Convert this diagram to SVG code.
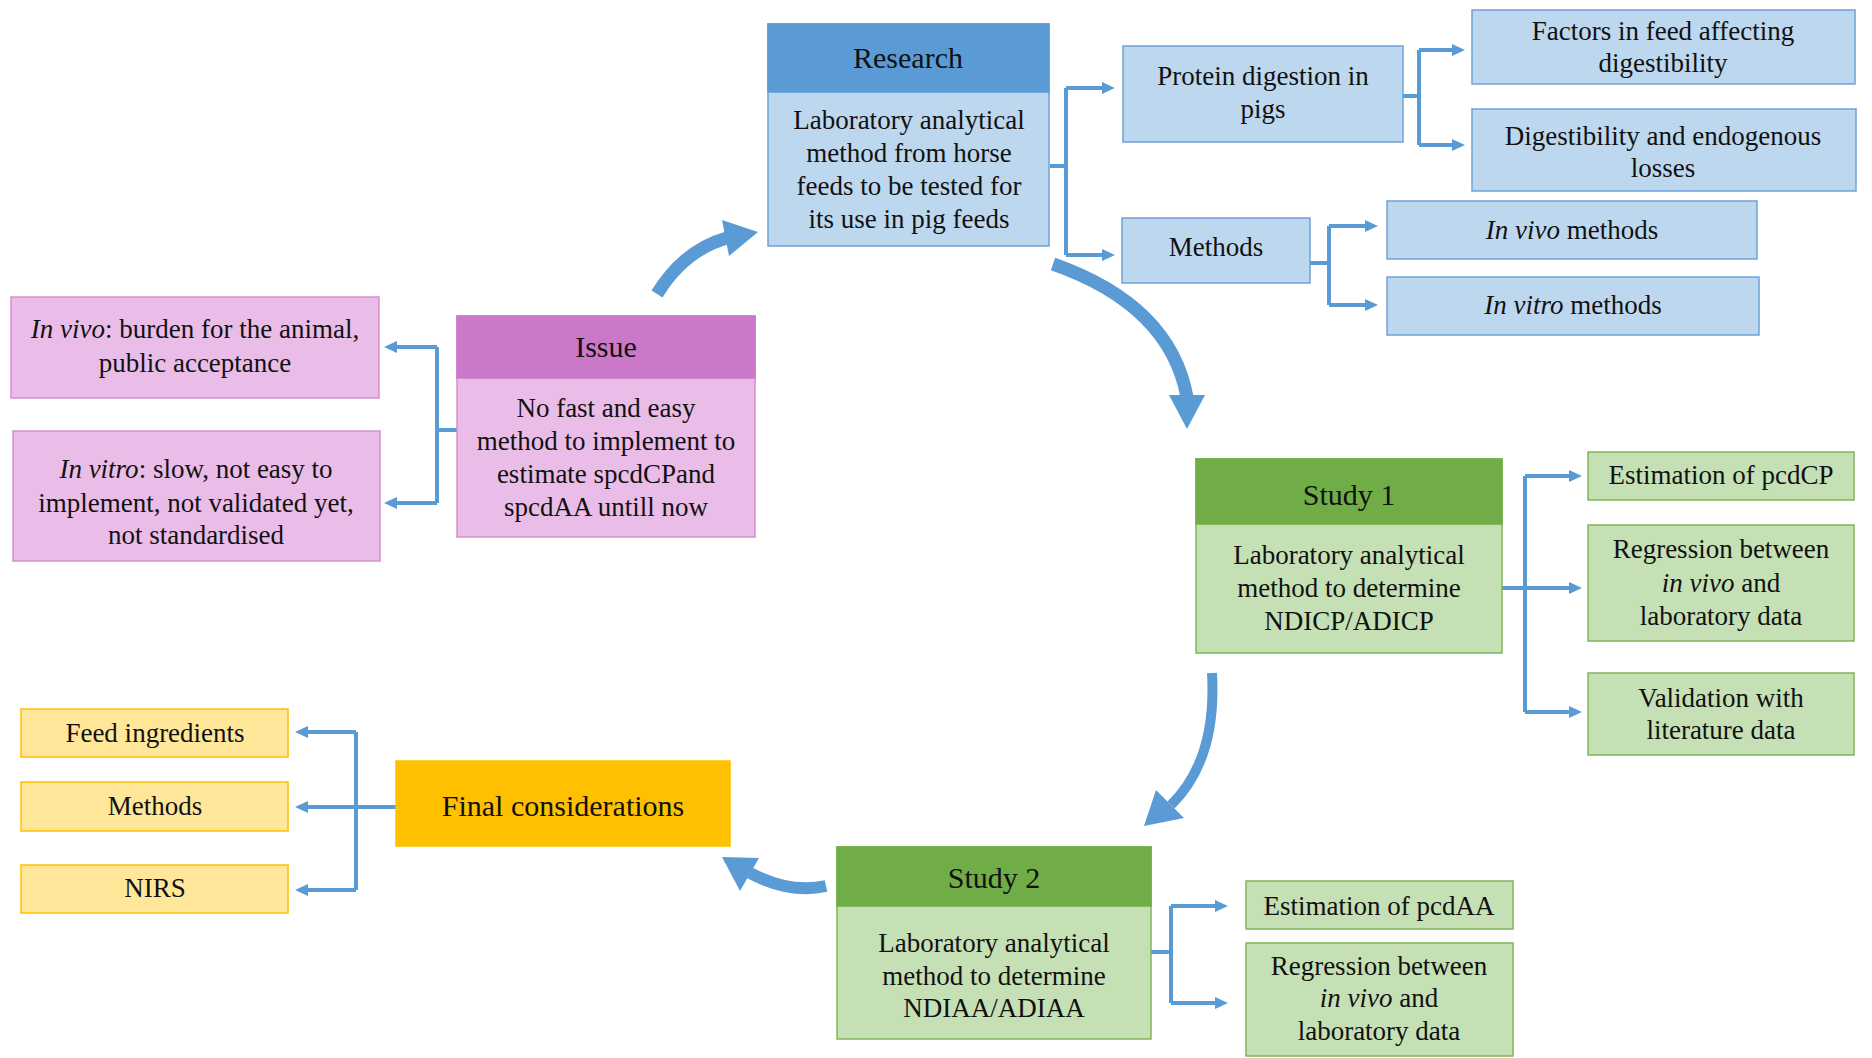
<svg xmlns="http://www.w3.org/2000/svg" width="1872" height="1058" viewBox="0 0 1872 1058">
<defs>
<style>
text{font-family:"Liberation Serif","Times New Roman",serif;fill:#111;text-anchor:middle}
.b{font-size:27px}
.h{font-size:30px}
.i{font-style:italic}
.lb{fill:#bdd7ee;stroke:#6fa3d8;stroke-width:1.5}
.hb{fill:#5b9bd5;stroke:#5b9bd5;stroke-width:1.5}
.lp{fill:#eabce8;stroke:#d58fd1;stroke-width:1.5}
.hp{fill:#cc78c8;stroke:#cc78c8;stroke-width:1.5}
.lg{fill:#c5e0b4;stroke:#7fb65a;stroke-width:1.5}
.hg{fill:#70ad47;stroke:#70ad47;stroke-width:1.5}
.ly{fill:#ffe699;stroke:#ffc000;stroke-width:1.5}
.hy{fill:#ffc000;stroke:#ffc000;stroke-width:1.5}
.c{fill:none;stroke:#5b9bd5;stroke-width:4}
.ca{fill:none;stroke:#5b9bd5;stroke-width:4;marker-end:url(#ah)}
.big{fill:none;stroke:#5b9bd5}
.head{fill:#5b9bd5}
</style>
<marker id="ah" markerWidth="14" markerHeight="14" refX="1" refY="7" orient="auto" markerUnits="userSpaceOnUse">
<path d="M0,1 L13,7 L0,13 z" fill="#5b9bd5"/>
</marker>
</defs>
<rect width="1872" height="1058" fill="#fff"/>

<g id="connectors">
<!-- Research -->
<path class="c" d="M1050,166 H1066 M1066,88 V255"/>
<path class="ca" d="M1066,88 H1103"/>
<path class="ca" d="M1066,255 H1103"/>
<!-- Protein -->
<path class="c" d="M1403,96 H1419 M1419,50 V145"/>
<path class="ca" d="M1419,50 H1453"/>
<path class="ca" d="M1419,145 H1453"/>
<!-- Methods -->
<path class="c" d="M1310,263 H1329 M1329,226 V305"/>
<path class="ca" d="M1329,226 H1366"/>
<path class="ca" d="M1329,305 H1366"/>
<!-- Issue -->
<path class="c" d="M457,430 H437 M437,347 V503"/>
<path class="ca" d="M437,347 H396"/>
<path class="ca" d="M437,503 H396"/>
<!-- Study 1 -->
<path class="c" d="M1525,476 V712"/>
<path class="ca" d="M1502,588 H1570"/>
<path class="ca" d="M1525,476 H1570"/>
<path class="ca" d="M1525,712 H1570"/>
<!-- Study 2 -->
<path class="c" d="M1151,952 H1171 M1171,906 V1003"/>
<path class="ca" d="M1171,906 H1216"/>
<path class="ca" d="M1171,1003 H1216"/>
<!-- Final -->
<path class="c" d="M396,807 H356 M356,732 V890"/>
<path class="ca" d="M356,732 H307"/>
<path class="ca" d="M356,807 H307"/>
<path class="ca" d="M356,890 H307"/>
<!-- big curved arrows -->
<path class="big" stroke-width="13" d="M657,294 Q684,250 727,238"/>
<polygon class="head" points="758,232 722,220 729,256"/>
<path class="big" stroke-width="13" d="M1053,264 Q1170,305 1187,397"/>
<polygon class="head" points="1187,429 1169,395 1205,395"/>
<path class="big" stroke-width="10" d="M1212,673 Q1217,760 1171,805"/>
<polygon class="head" points="1144,826 1156,790 1184,818"/>
<path class="big" stroke-width="12" d="M826,886 Q790,894 750,873"/>
<polygon class="head" points="722,857 759,858 740,891"/>
</g>

<g id="research">
<rect class="lb" x="768" y="24" width="281" height="222"/>
<rect class="hb" x="768" y="24" width="281" height="68"/>
<text class="h" x="908" y="68">Research</text>
<text class="b" x="909" y="129">Laboratory analytical</text>
<text class="b" x="909" y="162">method from horse</text>
<text class="b" x="909" y="195">feeds to be tested for</text>
<text class="b" x="909" y="228">its use in pig feeds</text>
</g>

<g id="protein">
<rect class="lb" x="1123" y="46" width="280" height="96"/>
<text class="b" x="1263" y="85">Protein digestion in</text>
<text class="b" x="1263" y="118">pigs</text>
</g>

<g id="factors">
<rect class="lb" x="1472" y="10" width="383" height="74"/>
<text class="b" x="1663" y="40">Factors in feed affecting</text>
<text class="b" x="1663" y="72">digestibility</text>
</g>

<g id="digestibility">
<rect class="lb" x="1472" y="109" width="384" height="82"/>
<text class="b" x="1663" y="145">Digestibility and endogenous</text>
<text class="b" x="1663" y="177">losses</text>
</g>

<g id="methods">
<rect class="lb" x="1122" y="218" width="188" height="65"/>
<text class="b" x="1216" y="256">Methods</text>
</g>

<g id="invivo-methods">
<rect class="lb" x="1387" y="201" width="370" height="58"/>
<text class="b" x="1572" y="239"><tspan class="i">In vivo</tspan> methods</text>
</g>

<g id="invitro-methods">
<rect class="lb" x="1387" y="277" width="372" height="58"/>
<text class="b" x="1573" y="314"><tspan class="i">In vitro</tspan> methods</text>
</g>

<g id="issue">
<rect class="lp" x="457" y="316" width="298" height="221"/>
<rect class="hp" x="457" y="316" width="298" height="62"/>
<text class="h" x="606" y="357">Issue</text>
<text class="b" x="606" y="417">No fast and easy</text>
<text class="b" x="606" y="450">method to implement to</text>
<text class="b" x="606" y="483">estimate spcdCPand</text>
<text class="b" x="606" y="516">spcdAA untill now</text>
</g>

<g id="invivo-burden">
<rect class="lp" x="11" y="297" width="368" height="101"/>
<text class="b" x="195" y="338"><tspan class="i">In vivo</tspan>: burden for the animal,</text>
<text class="b" x="195" y="372">public acceptance</text>
</g>

<g id="invitro-slow">
<rect class="lp" x="13" y="431" width="367" height="130"/>
<text class="b" x="196" y="478"><tspan class="i">In vitro</tspan>: slow, not easy to</text>
<text class="b" x="196" y="512">implement, not validated yet,</text>
<text class="b" x="196" y="544">not standardised</text>
</g>

<g id="study1">
<rect class="lg" x="1196" y="459" width="306" height="194"/>
<rect class="hg" x="1196" y="459" width="306" height="65"/>
<text class="h" x="1349" y="505">Study 1</text>
<text class="b" x="1349" y="564">Laboratory analytical</text>
<text class="b" x="1349" y="597">method to determine</text>
<text class="b" x="1349" y="630">NDICP/ADICP</text>
</g>

<g id="est-pcdcp">
<rect class="lg" x="1588" y="452" width="266" height="48"/>
<text class="b" x="1721" y="484">Estimation of pcdCP</text>
</g>

<g id="regression1">
<rect class="lg" x="1588" y="525" width="266" height="116"/>
<text class="b" x="1721" y="558">Regression between</text>
<text class="b" x="1721" y="592"><tspan class="i">in vivo</tspan> and</text>
<text class="b" x="1721" y="625">laboratory data</text>
</g>

<g id="validation">
<rect class="lg" x="1588" y="673" width="266" height="82"/>
<text class="b" x="1721" y="707">Validation with</text>
<text class="b" x="1721" y="739">literature data</text>
</g>

<g id="study2">
<rect class="lg" x="837" y="847" width="314" height="192"/>
<rect class="hg" x="837" y="847" width="314" height="59"/>
<text class="h" x="994" y="888">Study 2</text>
<text class="b" x="994" y="952">Laboratory analytical</text>
<text class="b" x="994" y="985">method to determine</text>
<text class="b" x="994" y="1017">NDIAA/ADIAA</text>
</g>

<g id="est-pcdaa">
<rect class="lg" x="1246" y="881" width="267" height="48"/>
<text class="b" x="1379" y="915">Estimation of pcdAA</text>
</g>

<g id="regression2">
<rect class="lg" x="1246" y="943" width="267" height="113"/>
<text class="b" x="1379" y="975">Regression between</text>
<text class="b" x="1379" y="1007"><tspan class="i">in vivo</tspan> and</text>
<text class="b" x="1379" y="1040">laboratory data</text>
</g>

<g id="final">
<rect class="hy" x="396" y="761" width="334" height="85"/>
<text class="h" x="563" y="816">Final considerations</text>
</g>

<g id="feed-ingredients">
<rect class="ly" x="21" y="709" width="267" height="48"/>
<text class="b" x="155" y="742">Feed ingredients</text>
</g>

<g id="methods-yellow">
<rect class="ly" x="21" y="782" width="267" height="49"/>
<text class="b" x="155" y="815">Methods</text>
</g>

<g id="nirs">
<rect class="ly" x="21" y="865" width="267" height="48"/>
<text class="b" x="155" y="897">NIRS</text>
</g>
</svg>
